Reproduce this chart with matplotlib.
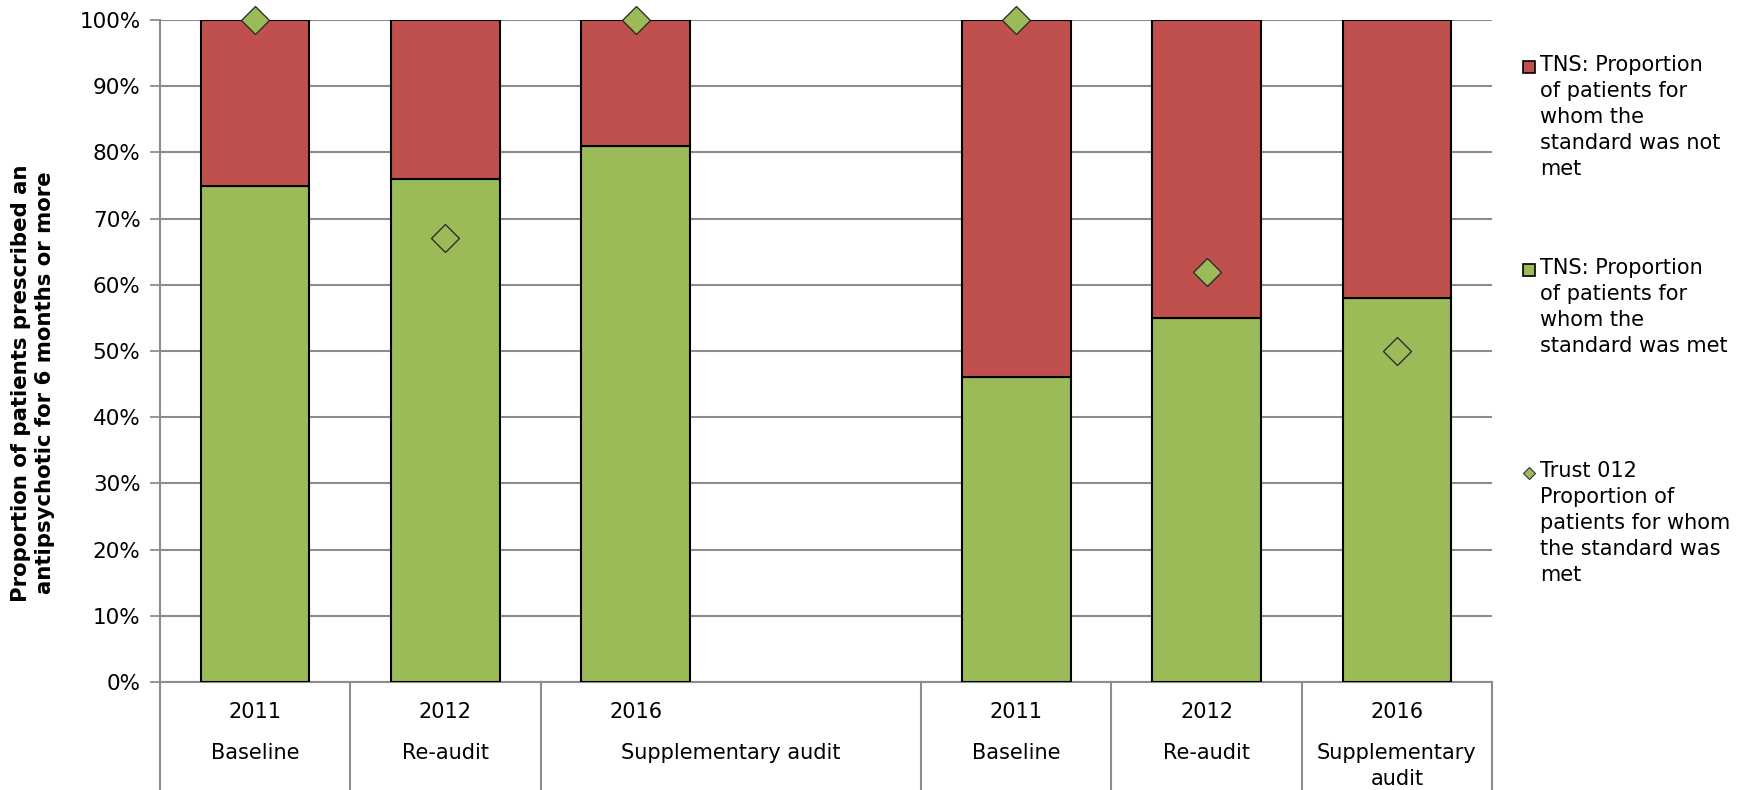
import numpy as np
import matplotlib.pyplot as plt
from matplotlib.lines import Line2D

# data (slot 3 is the empty gap between the two groups)
years = ["2011", "2012", "2016", "", "2011", "2012", "2016"]
met = [75, 76, 81, np.nan, 46, 55, 58]
not_met = [25, 24, 19, np.nan, 54, 45, 42]
trust = [100, 67, 100, np.nan, 100, 62, 50]
stage_labels = ["Baseline", "Re-audit", "Supplementary audit", "Baseline", "Re-audit", "Supplementary\naudit"]
stage_span = [(0, 1), (1, 2), (2, 4), (4, 5), (5, 6), (6, 7)]

legend_labels = ["TNS: Proportion\nof patients for\nwhom the\nstandard was not\nmet",
                 "TNS: Proportion\nof patients for\nwhom the\nstandard was met",
                 "Trust 012\nProportion of\npatients for whom\nthe standard was\nmet"]

RED = "#C0504D"
GREEN = "#9BBB59"
GRID = "#8C8C8C"
FS = 15

W, H = 1740, 790
fig = plt.figure(figsize=(W / 100, H / 100), dpi=100)
ax_l, ax_r, ax_t, ax_b = 160, 1492, 20, 682
ax = fig.add_axes([ax_l / W, 1 - ax_b / H, (ax_r - ax_l) / W, (ax_b - ax_t) / H])

x = np.arange(len(years)) + 0.5
ax.bar(x, met, width=0.57, color=GREEN, edgecolor="black", linewidth=1.5, zorder=3)
ax.bar(x, not_met, width=0.57, bottom=met, color=RED, edgecolor="black", linewidth=1.5, zorder=3)
ax.plot(x, trust, linestyle="none", marker="D", markersize=14, markerfacecolor=GREEN,
        markeredgecolor="#222222", markeredgewidth=0.9, zorder=5, clip_on=False)

ax.set_xlim(0, len(years))
ax.set_ylim(0, 100)
ax.set_yticks(np.arange(0, 101, 10))
ax.set_yticklabels([f"{v}%" for v in range(0, 101, 10)], fontsize=15.5)
ax.set_xticks([])
ax.tick_params(axis="y", direction="out", length=7, width=1.3, color=GRID, pad=7)
ax.grid(axis="y", color=GRID, linewidth=1.5, zorder=0)
for s in ["top", "right"]:
    ax.spines[s].set_visible(False)
ax.spines["left"].set_color(GRID)
ax.spines["bottom"].set_color(GRID)
ax.spines["left"].set_linewidth(1.5)
ax.spines["bottom"].set_linewidth(1.5)

# multi-level category axis
px = 1.0 / (ax_b - ax_t)
bottom_y = -(H - ax_b) * px
trans = ax.get_xaxis_transform()
for sep in [0, 1, 2, 4, 5, 6, 7]:
    ax.plot([sep, sep], [0, bottom_y], color=GRID, linewidth=1.5, transform=trans, clip_on=False)
for xi, yr in zip(x, years):
    if yr:
        ax.text(xi, -(712 - ax_b) * px, yr, ha="center", va="center", fontsize=FS, transform=trans)
for (a, b), lab in zip(stage_span, stage_labels):
    ax.text((a + b) / 2, -(743 - ax_b) * px, lab, ha="center", va="top", fontsize=FS,
            linespacing=1.35, transform=trans, clip_on=False)

fig.text(33 / W, 1 - 383 / H, "Proportion of patients prescribed an\nantipsychotic for 6 months or more",
         rotation=90, ha="center", va="center", fontsize=15.3, fontweight="bold", linespacing=1.2)

# legend drawn by hand so the three entries are evenly spaced
leg_y = [67, 270, 473]
handles = [dict(marker="s", ms=8, mfc=RED, mec="black", mew=1.2),
           dict(marker="s", ms=8, mfc=GREEN, mec="black", mew=1.2),
           dict(marker="D", ms=6, mfc=GREEN, mec="#333333", mew=0.8)]
for yy, lab, h in zip(leg_y, legend_labels, handles):
    fig.add_artist(Line2D([1529 / W], [1 - yy / H], transform=fig.transFigure, linestyle="none", **h))
    fig.text(1540 / W, 1 - (yy - 12) / H, lab, ha="left", va="top", fontsize=FS, linespacing=1.37)

fig.savefig("out.png", dpi=100)
